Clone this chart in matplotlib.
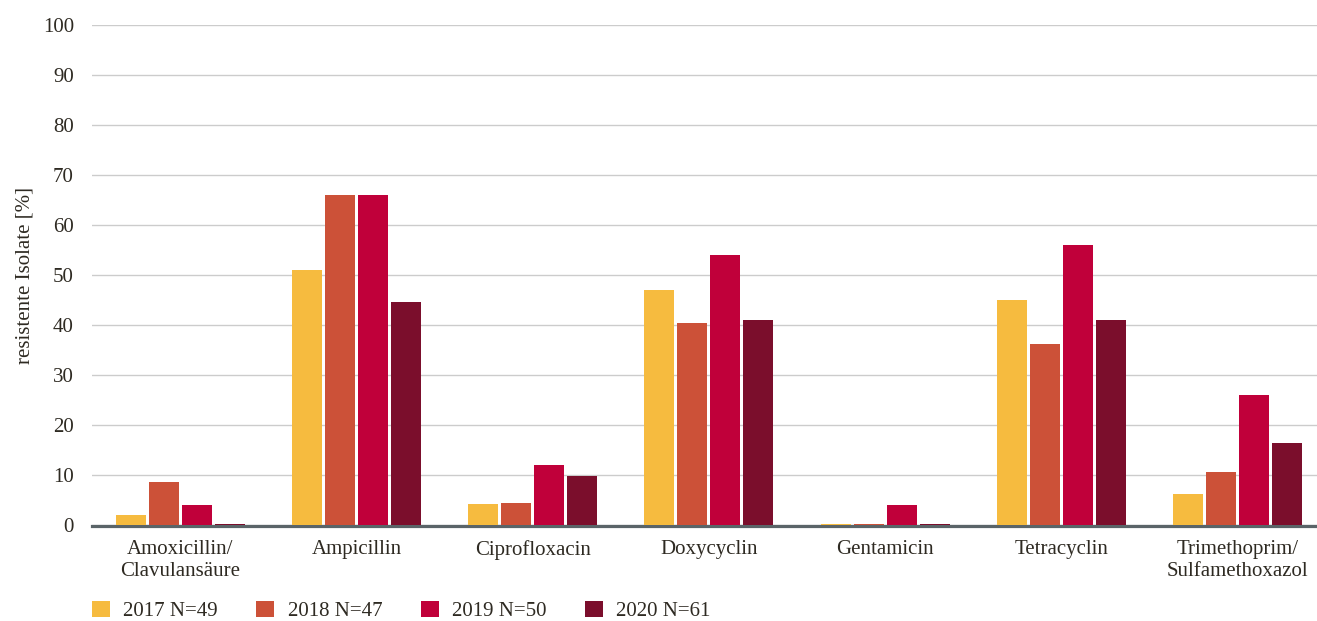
import numpy as np
import matplotlib.pyplot as plt
from matplotlib.patches import Patch

# Resistance data per antibiotic and year
antibiotics = ['Amoxicillin/\nClavulansäure', 'Ampicillin', 'Ciprofloxacin', 'Doxycyclin',
               'Gentamicin', 'Tetracyclin', 'Trimethoprim/\nSulfamethoxazol']
years = ['2017 N=49', '2018 N=47', '2019 N=50', '2020 N=61']
res_2017 = [2.0, 51.1, 4.3, 47.1, 0.3, 45.1, 6.3]
res_2018 = [8.7, 66.1, 4.5, 40.5, 0.3, 36.3, 10.7]
res_2019 = [4.1, 66.1, 12.1, 54.1, 4.1, 56.1, 26.1]
res_2020 = [0.3, 44.7, 9.9, 41.1, 0.3, 41.1, 16.5]

colors = ['#F6BB3F', '#CC5138', '#C0003A', '#7B0E2C']
text_color = '#2E2A22'

plt.rcParams['font.family'] = ['Liberation Serif', 'DejaVu Serif']

fig = plt.figure(figsize=(13.17, 6.21), dpi=100)
ax = fig.add_axes([92 / 1317, 1 - 525 / 621, 1 - 92 / 1317, 500 / 621])

x = np.arange(len(antibiotics))
width = 0.17
step = 0.187
for i, (vals, col) in enumerate(zip([res_2017, res_2018, res_2019, res_2020], colors)):
    ax.bar(x + (i - 1.5) * step, vals, width=width, color=col, zorder=3)

ax.set_xlim(-0.5, 6.45)
ax.set_ylim(0, 100)
ax.set_yticks(range(0, 101, 10))
ax.grid(axis='y', color='#CCCCCC', linewidth=1, zorder=0)
# baseline sits just under the bars
ax.axhline(-0.25, color='#5A6468', linewidth=2.3, zorder=2, clip_on=False)

for s in ax.spines.values():
    s.set_visible(False)
ax.tick_params(axis='both', length=0, labelsize=15, colors=text_color)
ax.tick_params(axis='y', pad=13)
ax.tick_params(axis='x', pad=11)
ax.set_xticks(x)
ax.set_xticklabels(antibiotics, linespacing=1.2)
ax.set_ylabel('resistente Isolate [%]', fontsize=15, color=text_color, labelpad=6)

handles = [Patch(facecolor=c, edgecolor='none') for c in colors]
fig.legend(handles, years, loc='center left', bbox_to_anchor=(92 / 1317, 1 - 611 / 621), ncol=4,
           frameon=False, fontsize=15, handlelength=0.85, handleheight=0.85,
           handletextpad=0.65, columnspacing=1.85, borderpad=0, borderaxespad=0,
           labelcolor=text_color)

fig.savefig('out.png', dpi=100)
